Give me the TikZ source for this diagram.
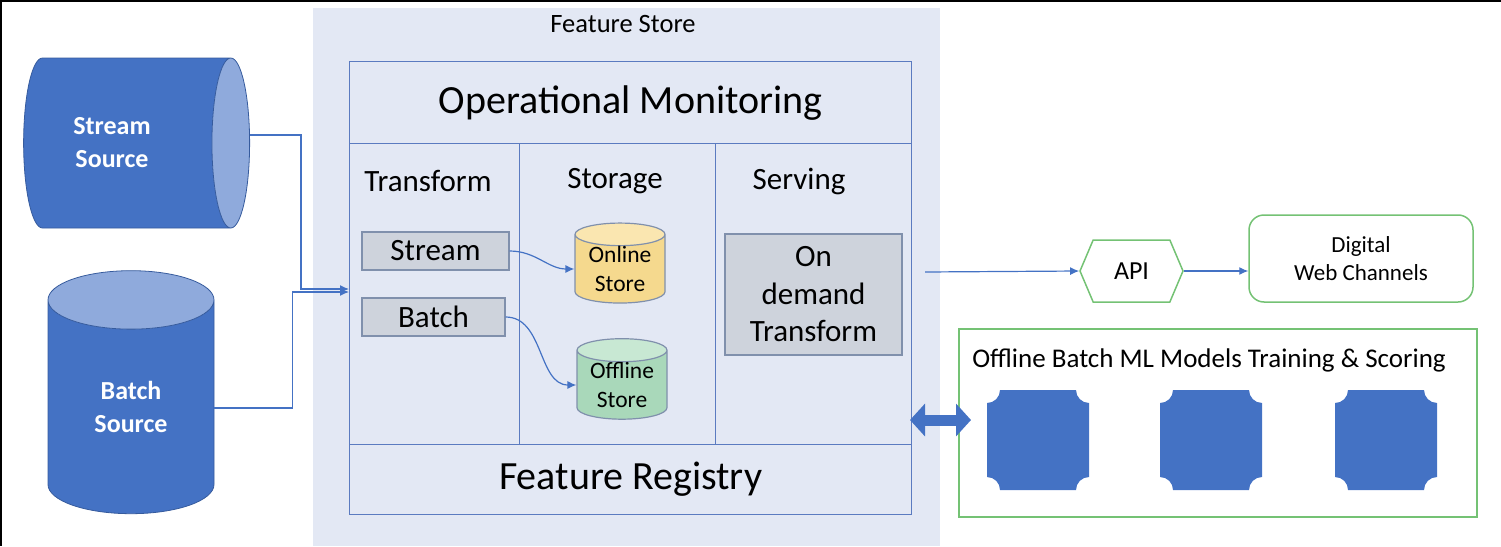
\documentclass[tikz,border=0pt]{standalone}
\usepackage{fontspec}
\setmainfont{Carlito}
\usetikzlibrary{shapes.geometric, shapes.symbols, positioning, arrows.meta}

\definecolor{srcblue}{HTML}{4472C4}
\definecolor{srcend}{HTML}{8FAADC}
\definecolor{panel}{HTML}{E3E8F4}
\definecolor{frame}{HTML}{5B7BC0}
\definecolor{boxgray}{HTML}{CED3DC}
\definecolor{boxedge}{HTML}{8090AC}
\definecolor{onlinefill}{HTML}{F5D98E}
\definecolor{onlinetop}{HTML}{FAE6B0}
\definecolor{offlinefill}{HTML}{A9D8BA}
\definecolor{offlinetop}{HTML}{C8E8D3}
\definecolor{okgreen}{HTML}{74C274}
\definecolor{ink}{HTML}{2B2B2B}

\newcommand{\fs}[2]{\fontsize{#1}{#2}\selectfont}

\begin{document}
\begin{tikzpicture}[x=1pt,y=-1pt,font=\color{ink},
  cell/.style={draw=frame, line width=1.3pt, inner sep=0pt},
  tbox/.style={draw=boxedge, fill=boxgray, line width=1.2pt, inner sep=0pt, font=\fs{31}{37.5}, align=center},
  src/.style={cylinder, draw=srcblue!80!black, line width=0.8pt, cylinder uses custom fill,
    cylinder body fill=srcblue, cylinder end fill=srcend, inner sep=0pt,
    text=white, font=\bfseries\fs{26}{33}, align=center},
  store/.style={cylinder, shape border rotate=90, draw=boxedge, line width=1.2pt, cylinder uses custom fill,
    aspect=0.36, inner sep=0pt, font=\fs{23.5}{29}, align=center},
  gbox/.style={draw=okgreen, line width=1.5pt, inner sep=0pt},
  link/.style={draw=srcblue, line width=1.2pt, -{Latex[length=9pt,width=8pt]}}]

  \useasboundingbox (0,0) rectangle (1501,546);
  \draw[line width=4pt] (0,546) -- (0,0) -- (1501,0);

  % feature store panel
  \node[fill=panel, minimum width=627pt, minimum height=538pt, anchor=north west, inner sep=0pt] (panel) at (313,8) {};
  \node[font=\fs{26.5}{30}] (paneltitle) at (623,24) {Feature Store};

  \node[cell, minimum width=562pt, minimum height=82pt, anchor=north west, font=\fs{40}{44}] (opmon) at (349,61) {Operational Monitoring};
  \node[cell, minimum width=170pt, minimum height=301pt, anchor=north west] (transcol) at (349,143) {};
  \node[cell, minimum width=196pt, minimum height=301pt, anchor=north west] (storcol) at (519,143) {};
  \node[cell, minimum width=196pt, minimum height=301pt, anchor=north west] (servcol) at (715,143) {};
  \node[cell, minimum width=562pt, minimum height=70pt, anchor=north west, font=\fs{40}{44}] (registry) at (349,444) {Feature Registry};

  \node[font=\fs{31}{34}] (transhead) at (428,181) {Transform};
  \node[font=\fs{31}{34}] (storhead) at (615,181) {Storage};
  \node[font=\fs{31}{34}] (servhead) at (799,181) {Serving};

  \node[tbox, minimum width=147pt, minimum height=38pt] (streambox) at (435.5,251) {Stream};
  \node[tbox, minimum width=143pt, minimum height=38pt] (batchbox) at (433.5,317) {Batch};
  \node[tbox, minimum width=177pt, minimum height=121pt] (ondemand) at (813.5,294.5) {On\\demand\\Transform};

  \node[store, cylinder body fill=onlinefill, cylinder end fill=onlinetop, minimum width=90pt, minimum height=74pt] (online) at (620,269) {Online\\Store};
  \node[store, cylinder body fill=offlinefill, cylinder end fill=offlinetop, minimum width=90pt, minimum height=74pt] (offline) at (622,385) {Offline\\Store};

  % sources
  \node[src, aspect=0.75, minimum width=170pt, minimum height=226pt] (streamsrc) at (127,143)
    {\hspace*{-30pt}Stream\\\hspace*{-30pt}Source};
  \node[src, aspect=0.8, shape border rotate=90, minimum width=166pt, minimum height=243pt] (batchsrc) at (131,407) {Batch\\Source};

  % consumers
  \node[signal, signal to=west and east, signal pointer angle=134, draw=okgreen, line width=1.5pt,
    minimum width=103pt, minimum height=62pt, inner sep=0pt, font=\fs{26}{30}] (api) at (1131.5,271) {API};
  \node[gbox, rounded corners=15pt, minimum width=224pt, minimum height=87pt, align=center, font=\fs{23}{28}] (web) at (1361,258.5) {Digital\\Web Channels};
  \node[gbox, minimum width=518pt, minimum height=188pt, anchor=north west] (mlbox) at (958,328) {};
  \node[font=\fs{27}{30}] (mltitle) at (1209,360) {Offline Batch ML Models Training \& Scoring};

  \foreach \x in {987,1160,1335}
    \fill[srcblue] (\x,403) -- (\x,477) arc[start angle=270, end angle=360, radius=13] -- (\x+89,490)
      arc[start angle=180, end angle=270, radius=13] -- (\x+102,403)
      arc[start angle=90, end angle=180, radius=13] -- (\x+13,390)
      arc[start angle=0, end angle=90, radius=13] -- cycle;

  % connectors
  \coordinate (inlet1) at (349,289);
  \coordinate (inlet2) at (349,292);
  \coordinate (servout) at (925,272);
  \coordinate (dblL) at (910,420);
  \coordinate (dblR) at (971,420);

  \draw[link] ([yshift=8pt]streamsrc.east) -- ++(51,0) |- (inlet1);
  \draw[link] (batchsrc.0 |- 0,408) -- ++(78,0) |- (inlet2);
  \draw[link] (streambox.east) to[out=0, in=180] (online.180);
  \draw[link] (batchbox.east) to[out=0, in=180] (offline.180);
  \draw[link] (servout) -- (api.west);
  \draw[link] (api.east) -- (api.east -| web.west);
  \draw[srcblue, line width=11pt, {Triangle[length=15pt,width=32pt]}-{Triangle[length=15pt,width=32pt]}] (dblL) -- (dblR);
\end{tikzpicture}
\end{document}
